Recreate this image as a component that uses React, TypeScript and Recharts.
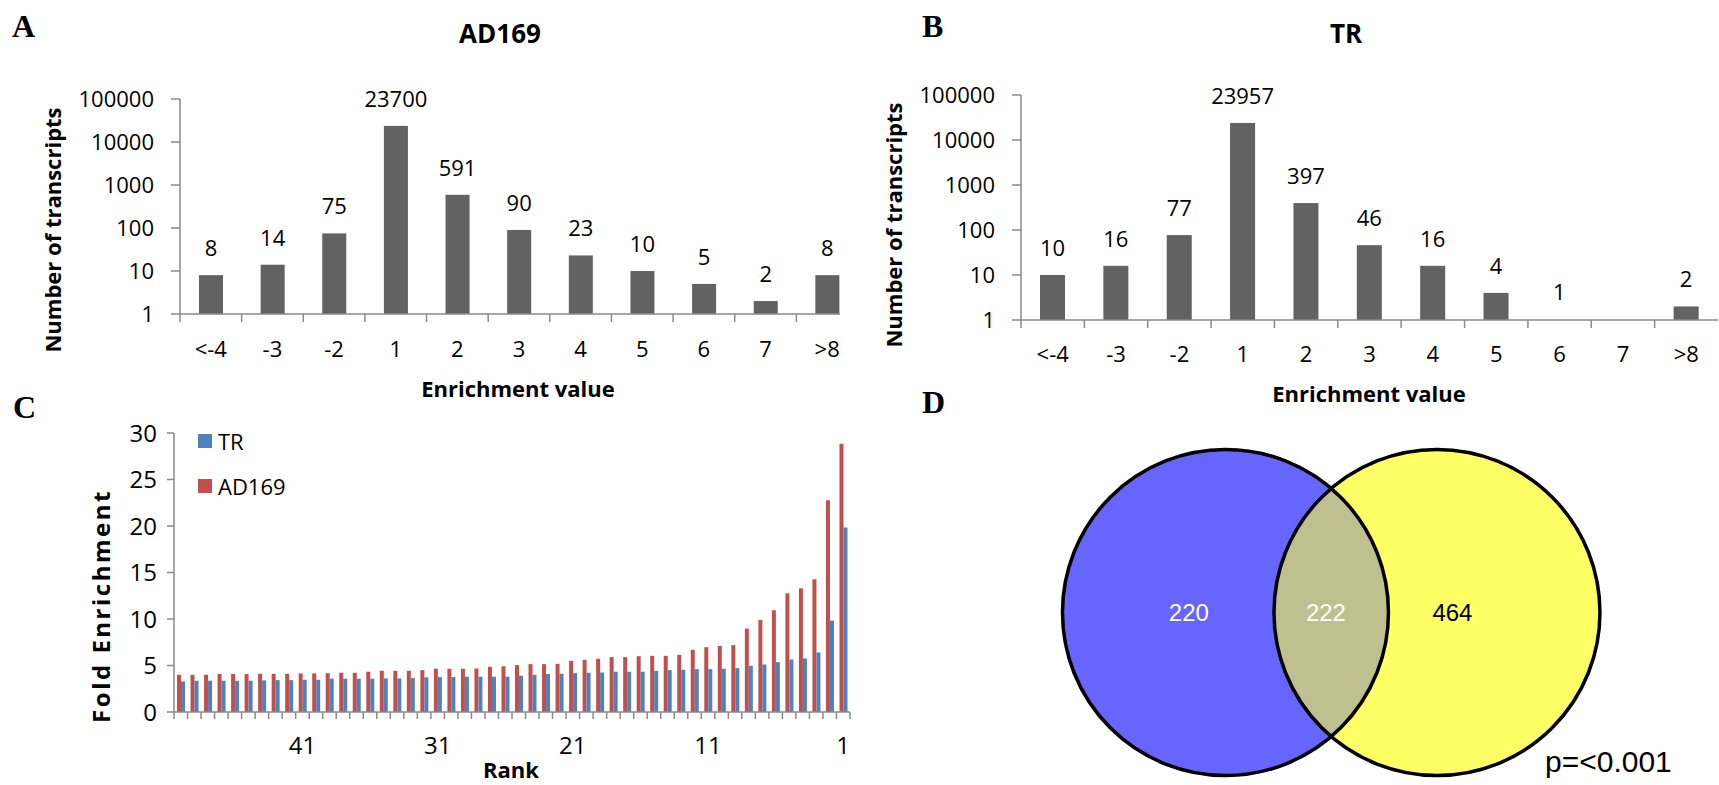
import React from "react";
import {
  BarChart,
  Bar,
  XAxis,
  YAxis,
  LabelList,
  Legend,
  ScatterChart,
  Scatter,
} from "recharts";

// panels A / B: transcripts per enrichment bin (log scale)
const ENRICH_BINS = ["<-4", "-3", "-2", "1", "2", "3", "4", "5", "6", "7", ">8"];
const AD169_COUNTS = [8, 14, 75, 23700, 591, 90, 23, 10, 5, 2, 8];
const TR_COUNTS = [10, 16, 77, 23957, 397, 46, 16, 4, 1, null, 2];
const LOG_TICKS = [1, 10, 100, 1000, 10000, 100000];

// panel C: fold enrichment of the top 50 transcripts, rank 50 -> 1
const RANKS = [
  50, 49, 48, 47, 46, 45, 44, 43, 42, 41, 40, 39, 38, 37, 36, 35, 34, 33, 32, 31,
  30, 29, 28, 27, 26, 25, 24, 23, 22, 21, 20, 19, 18, 17, 16, 15, 14, 13, 12, 11,
  10, 9, 8, 7, 6, 5, 4, 3, 2, 1,
];
const RANK_LABELS = [41, 31, 21, 11, 1];
const AD169_FOLD = [
  4.0, 4.0, 4.0, 4.08, 4.08, 4.08, 4.11, 4.11, 4.11, 4.15,
  4.15, 4.18, 4.22, 4.22, 4.33, 4.43, 4.43, 4.43, 4.5, 4.65,
  4.65, 4.65, 4.68, 4.86, 4.92, 5.04, 5.15, 5.15, 5.18, 5.5,
  5.61, 5.72, 5.9, 5.9, 6.0, 6.04, 6.04, 6.15, 6.69, 6.97,
  7.11, 7.19, 8.97, 9.9, 10.94, 12.76, 13.3, 14.27, 22.77, 28.85,
];
const TR_FOLD = [
  3.29, 3.36, 3.36, 3.36, 3.36, 3.36, 3.4, 3.43, 3.43, 3.47,
  3.47, 3.58, 3.58, 3.58, 3.58, 3.61, 3.61, 3.65, 3.72, 3.75,
  3.75, 3.79, 3.79, 3.79, 3.79, 3.9, 4.0, 4.08, 4.11, 4.18,
  4.22, 4.25, 4.33, 4.33, 4.33, 4.43, 4.5, 4.54, 4.61, 4.61,
  4.65, 4.72, 4.97, 5.11, 5.36, 5.65, 5.76, 6.4, 9.83, 19.84,
];
const FOLD_TICKS = [0, 5, 10, 15, 20, 25, 30];
const LEGEND_ORDER = ["TR", "AD169"];

// panel D: venn (set centres in units of centre distance)
const VENN_SETS = [
  { set: "TR", x: 0, y: 0 },
  { set: "AD169", x: 1, y: 0 },
];
const VENN_REGIONS = [
  { count: 220, x: -0.173, y: 0 },
  { count: 222, x: 0.475, y: 0 },
  { count: 464, x: 1.073, y: 0 },
];
const VENN_P = "p=<0.001";

const FONT = "'Open Sans', 'Noto Sans', sans-serif";
const SERIF = "'Liberation Serif', 'DejaVu Serif', serif";
const ARIAL = "'Liberation Sans', Arial, sans-serif";
const AXIS = "#8a8a8a";
const BAR_GRAY = "#626262";
const BLUE = "#4f81bd";
const RED = "#c0504d";
const VENN_FILL: Record<string, string> = { TR: "#6666ff", AD169: "#ffff66" };
const VENN_OVERLAP = "#bfbf8f";
const VENN_TEXT = ["#ffffff", "#ffffff", "#000000"];
const VENN_R = 163;

const tickText = { fontSize: 22, fill: "#000", fontFamily: FONT };
const foldTickText = { fontSize: 24, fill: "#000", fontFamily: FONT };

// Excel-style category ticks: tick marks on the category boundaries
function makeBoundaryTick(
  band: number,
  len: number,
  dy: number,
  show: (v: any) => boolean,
  last: number,
  style: any
) {
  return (props: any) => {
    const { x, y, payload, index } = props;
    const left = x - band / 2;
    return (
      <g>
        <line x1={left} x2={left} y1={y} y2={y + len} stroke={AXIS} strokeWidth={1.5} />
        {index === last && (
          <line x1={x + band / 2} x2={x + band / 2} y1={y} y2={y + len} stroke={AXIS} strokeWidth={1.5} />
        )}
        {show(payload.value) && (
          <text x={x} y={y + dy} textAnchor="middle" {...style}>
            {payload.value}
          </text>
        )}
      </g>
    );
  };
}

// a count of 1 sits on the log baseline: keep its label, draw no block
const histBar = (p: any) =>
  p.payload && p.payload.count > 1 ? (
    <rect x={p.x} y={p.y} width={p.width} height={p.height} fill={BAR_GRAY} />
  ) : (
    <g />
  );

type HistProps = {
  counts: (number | null)[];
  width: number;
  yAxisWidth: number;
  margin: { top: number; right: number; bottom: number; left: number };
  barSize: number;
  labelDy: number;
};

function LogHistogram({ counts, width, yAxisWidth, margin, barSize, labelDy }: HistProps) {
  const data = ENRICH_BINS.map((bin, i) => ({ bin, count: counts[i] }));
  const band = (width - yAxisWidth - margin.left - margin.right) / ENRICH_BINS.length;
  return (
    <BarChart width={width} height={420} data={data} margin={margin}>
      <XAxis
        dataKey="bin"
        interval={0}
        height={60}
        tickSize={0}
        tickMargin={0}
        tickLine={false}
        axisLine={{ stroke: AXIS, strokeWidth: 1.5 }}
        tick={makeBoundaryTick(band, 8, labelDy, () => true, -1, tickText)}
      />
      <YAxis
        type="number"
        scale="log"
        domain={[1, 100000]}
        ticks={LOG_TICKS}
        allowDataOverflow
        width={yAxisWidth}
        tickSize={9}
        tickMargin={17}
        interval={0}
        axisLine={{ stroke: AXIS, strokeWidth: 1.5 }}
        tickLine={{ stroke: AXIS, strokeWidth: 1.5 }}
        tick={tickText}
      />
      <Bar
        dataKey="count"
        fill={BAR_GRAY}
        barSize={barSize}
        minPointSize={1}
        shape={histBar}
        isAnimationActive={false}
      >
        <LabelList dataKey="count" position="top" offset={19} style={tickText} />
      </Bar>
    </BarChart>
  );
}

function FoldLegend({ payload }: any) {
  const items = LEGEND_ORDER.map((name) => (payload || []).find((p: any) => p.value === name)).filter(Boolean);
  return (
    <div>
      {items.map((p: any) => (
        <div key={p.value} style={{ display: "flex", alignItems: "center", height: 45 }}>
          <span style={{ width: 14, height: 14, background: p.color, marginRight: 6 }} />
          <span style={{ fontFamily: FONT, fontSize: 22, color: "#000" }}>{p.value}</span>
        </div>
      ))}
    </div>
  );
}

function FoldChart() {
  const data = RANKS.map((rank, i) => ({ rank, AD169: AD169_FOLD[i], TR: TR_FOLD[i] }));
  const margin = { top: 33, right: 10, bottom: 23, left: 0 };
  const band = (860 - 174 - margin.right) / RANKS.length;
  return (
    <BarChart width={860} height={385} data={data} margin={margin} barGap={0} barCategoryGap="20%">
      <XAxis
        dataKey="rank"
        interval={0}
        height={50}
        tickSize={0}
        tickMargin={0}
        tickLine={false}
        axisLine={{ stroke: AXIS, strokeWidth: 1.5 }}
        tick={makeBoundaryTick(band, 7, 42, (v) => RANK_LABELS.includes(v), RANKS.length - 1, foldTickText)}
      />
      <YAxis
        type="number"
        domain={[0, 30]}
        ticks={FOLD_TICKS}
        width={174}
        tickSize={7}
        tickMargin={10}
        interval={0}
        axisLine={{ stroke: AXIS, strokeWidth: 1.5 }}
        tickLine={{ stroke: AXIS, strokeWidth: 1.5 }}
        tick={foldTickText}
      />
      <Legend
        layout="vertical"
        verticalAlign="middle"
        align="center"
        content={<FoldLegend />}
        wrapperStyle={{ left: 198, top: 18, width: 140, height: 90 }}
      />
      <Bar dataKey="AD169" name="AD169" fill={RED} barSize={4} isAnimationActive={false} />
      <Bar dataKey="TR" name="TR" fill={BLUE} barSize={4} isAnimationActive={false} />
    </BarChart>
  );
}

function VennChart() {
  const fillShape = (props: any) => {
    const { cx, cy, payload } = props;
    const id = `venn-clip-${payload.set}`;
    return (
      <g>
        <defs>
          <clipPath id={id}>
            <circle cx={cx} cy={cy} r={VENN_R} />
          </clipPath>
        </defs>
        <circle cx={cx} cy={cy} r={VENN_R} fill={VENN_FILL[payload.set]} />
        {payload.set !== VENN_SETS[0].set && (
          <circle
            cx={cx}
            cy={cy}
            r={VENN_R}
            fill={VENN_OVERLAP}
            clipPath={`url(#venn-clip-${VENN_SETS[0].set})`}
          />
        )}
      </g>
    );
  };
  const outlineShape = (props: any) => (
    <circle cx={props.cx} cy={props.cy} r={VENN_R} fill="none" stroke="#000" strokeWidth={3.5} />
  );
  const labelShape = (props: any) => {
    const i = VENN_REGIONS.indexOf(props.payload);
    return (
      <text
        x={props.cx}
        y={props.cy}
        textAnchor="middle"
        dominantBaseline="central"
        fontFamily={ARIAL}
        fontSize={24}
        fill={VENN_TEXT[i]}
      >
        {props.payload.count}
      </text>
    );
  };
  return (
    <ScatterChart width={600} height={345} margin={{ top: 0, right: 0, bottom: 0, left: 0 }}>
      <XAxis type="number" dataKey="x" domain={[-0.877, 1.96]} hide />
      <YAxis type="number" dataKey="y" domain={[-1, 1]} hide />
      <Scatter data={VENN_SETS} shape={fillShape} isAnimationActive={false} />
      <Scatter data={VENN_SETS} shape={outlineShape} isAnimationActive={false} />
      <Scatter data={VENN_REGIONS} shape={labelShape} isAnimationActive={false} />
    </ScatterChart>
  );
}

const letter = { fontFamily: SERIF, fontWeight: 700, fontSize: 32, fill: "#000" };
const title = { fontFamily: FONT, fontWeight: 700, fontSize: 26, fill: "#000" };
const axisTitle = { fontFamily: FONT, fontWeight: 700, fontSize: 22, fill: "#000" };

export default function App() {
  return (
    <div style={{ position: "absolute", left: 0, top: 0, width: 1719, height: 785, background: "#fff", overflow: "hidden" }}>
      <div style={{ position: "absolute", left: 0, top: 0, width: 840, height: 420, overflow: "hidden" }}>
        <LogHistogram
          counts={AD169_COUNTS}
          width={858}
          yAxisWidth={180}
          margin={{ top: 99, right: 0, bottom: 46, left: 0 }}
          barSize={24}
          labelDy={43}
        />
      </div>
      <div style={{ position: "absolute", left: 880, top: 0, width: 839, height: 420 }}>
        <LogHistogram
          counts={TR_COUNTS}
          width={839}
          yAxisWidth={141}
          margin={{ top: 95, right: 1, bottom: 40, left: 0 }}
          barSize={25}
          labelDy={42}
        />
      </div>
      <div style={{ position: "absolute", left: 0, top: 400, width: 860, height: 385 }}>
        <FoldChart />
      </div>
      <div style={{ position: "absolute", left: 1040, top: 440, width: 600, height: 345 }}>
        <VennChart />
      </div>
      <svg width={1719} height={785} style={{ position: "absolute", left: 0, top: 0, pointerEvents: "none" }}>
        <text x={12} y={37} {...letter}>A</text>
        <text x={922} y={37} {...letter}>B</text>
        <text x={13} y={418} {...letter}>C</text>
        <text x={922} y={413} {...letter}>D</text>
        <text x={500} y={43} textAnchor="middle" {...title}>AD169</text>
        <text x={1346} y={43} textAnchor="middle" {...title}>TR</text>
        <text x={52} y={230} textAnchor="middle" dominantBaseline="central" transform="rotate(-90 52 230)" {...axisTitle}>
          Number of transcripts
        </text>
        <text x={893} y={225} textAnchor="middle" dominantBaseline="central" transform="rotate(-90 893 225)" {...axisTitle}>
          Number of transcripts
        </text>
        <text x={518} y={397} textAnchor="middle" {...axisTitle}>Enrichment value</text>
        <text x={1369} y={402} textAnchor="middle" {...axisTitle}>Enrichment value</text>
        <text
          x={100}
          y={606}
          textAnchor="middle"
          dominantBaseline="central"
          transform="rotate(-90 100 606)"
          {...axisTitle}
          fontSize={24}
          letterSpacing={2.5}
        >
          Fold Enrichment
        </text>
        <text x={511} y={778} textAnchor="middle" {...axisTitle}>Rank</text>
        <text x={1545} y={772} fontFamily={ARIAL} fontSize={30} fill="#000">{VENN_P}</text>
      </svg>
    </div>
  );
}
